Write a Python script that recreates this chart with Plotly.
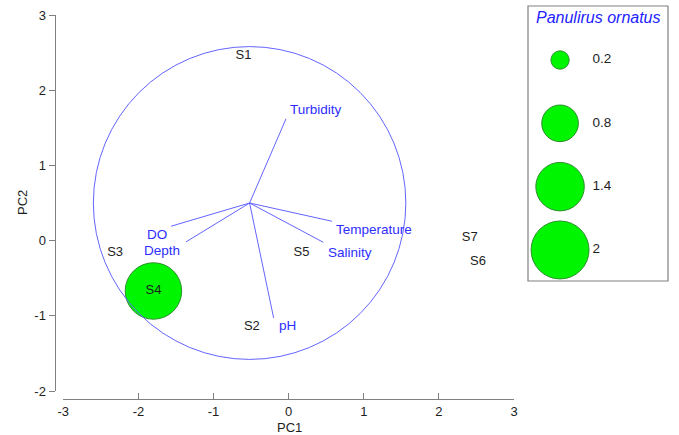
import numpy as np
import plotly.graph_objects as go

W, H = 679, 435
FONT = "Liberation Sans, Arial, sans-serif"

# ---------------- data ----------------
samples = ["S1", "S2", "S3", "S4", "S5", "S6", "S7"]
pc1 = [-0.60, -0.49, -2.31, -1.80, 0.17, 2.52, 2.41]
pc2 = [2.46, -1.14, -0.16, -0.67, -0.16, -0.28, 0.04]
abundance = [0, 0, 0, 1.9, 0, 0, 0]

variables = ["Turbidity", "Temperature", "Salinity", "pH", "DO", "Depth"]
vec_end_x = [-0.035, 0.578, 0.462, -0.200, -1.566, -1.366]
vec_end_y = [1.62, 0.257, -0.023, -1.028, 0.191, -0.017]
vec_origin_x = -0.52
vec_origin_y = 0.50
circle_radius = 2.08

legend_values = [0.2, 0.8, 1.4, 2]
legend_labels = ["0.2", "0.8", "1.4", "2"]
legend_title = "Panulirus ornatus"

x_ticks = [-3, -2, -1, 0, 1, 2, 3]
x_ticklabels = ["-3", "-2", "-1", "0", "1", "2", "3"]
y_ticks = [-2, -1, 0, 1, 2, 3]
y_ticklabels = ["-2", "-1", "0", "1", "2", "3"]
x_title = "PC1"
y_title = "PC2"

# ---------------- styles ----------------
BUBBLE_FILL = "#00f500"
BUBBLE_LINE = "#2f8f2f"
VEC_COLOR = "#6464ff"
VEC_TEXT = "#2e2eff"
AXIS_COLOR = "#808080"
TEXT_COLOR = "#1e1e1e"
SIZEREF = 2.0 / (41.0 ** 2)  # diameter ~ 41 px * sqrt(value)

label_style = {
    "Turbidity": dict(xanchor="left", xshift=2, yshift=9),
    "Temperature": dict(xanchor="left", xshift=2, yshift=-8),
    "Salinity": dict(xanchor="left", xshift=3, yshift=-10),
    "pH": dict(xanchor="left", xshift=3, yshift=-8),
    "DO": dict(xanchor="right", xshift=-2, yshift=-8),
    "Depth": dict(xanchor="right", xshift=-4, yshift=-9),
}

fig = go.Figure()

# vectors
vx, vy = [], []
for ex, ey in zip(vec_end_x, vec_end_y):
    vx += [vec_origin_x, ex, None]
    vy += [vec_origin_y, ey, None]
fig.add_trace(go.Scatter(x=vx, y=vy, mode="lines",
                         line=dict(color=VEC_COLOR, width=1),
                         hoverinfo="skip", showlegend=False))

# bubbles
bx = [x for x, a in zip(pc1, abundance) if a > 0]
by = [y for y, a in zip(pc2, abundance) if a > 0]
ba = [a for a in abundance if a > 0]
fig.add_trace(go.Scatter(x=bx, y=by, mode="markers",
                         marker=dict(size=ba, sizemode="area", sizeref=SIZEREF,
                                     color=BUBBLE_FILL, opacity=1,
                                     line=dict(color=BUBBLE_LINE, width=1)),
                         showlegend=False))

# sample labels
fig.add_trace(go.Scatter(x=pc1, y=pc2, mode="text", text=samples,
                         textposition="middle center",
                         textfont=dict(family=FONT, size=13, color=TEXT_COLOR),
                         showlegend=False))

# legend bubbles (separate axes)
leg_pos = list(range(len(legend_values)))
fig.add_trace(go.Scatter(x=[0.229] * len(legend_values), y=leg_pos, mode="markers",
                         marker=dict(size=legend_values, sizemode="area", sizeref=SIZEREF,
                                     color=BUBBLE_FILL, opacity=1,
                                     line=dict(color=BUBBLE_LINE, width=1)),
                         xaxis="x2", yaxis="y2", showlegend=False))
fig.add_trace(go.Scatter(x=[0.46] * len(legend_values), y=leg_pos, mode="text",
                         text=legend_labels, textposition="middle right",
                         textfont=dict(family=FONT, size=13.5, color=TEXT_COLOR),
                         xaxis="x2", yaxis="y2", showlegend=False))

annotations = []
for name, ex, ey in zip(variables, vec_end_x, vec_end_y):
    st = label_style[name]
    annotations.append(dict(x=ex, y=ey, xref="x", yref="y", text=name, showarrow=False,
                            yanchor="middle",
                            font=dict(family=FONT, size=13.5, color=VEC_TEXT), **st))

annotations.append(dict(x=0.5, y=0.96, xref="x2 domain", yref="y2 domain",
                        text="<i>" + legend_title + "</i>", showarrow=False,
                        xanchor="center", yanchor="middle",
                        font=dict(family=FONT, size=16, color="#2222ff")))
annotations.append(dict(x=289.3 / W, y=(H - 427.5) / H, xref="paper", yref="paper",
                        text=x_title, showarrow=False, xanchor="center", yanchor="middle",
                        font=dict(family=FONT, size=13, color=TEXT_COLOR)))
annotations.append(dict(x=22 / W, y=(H - 203) / H, xref="paper", yref="paper",
                        text=y_title, showarrow=False, textangle=-90,
                        xanchor="center", yanchor="middle",
                        font=dict(family=FONT, size=13, color=TEXT_COLOR)))

shapes = [
    dict(type="circle", xref="x", yref="y",
         x0=vec_origin_x - circle_radius, x1=vec_origin_x + circle_radius,
         y0=vec_origin_y - circle_radius, y1=vec_origin_y + circle_radius,
         line=dict(color=VEC_COLOR, width=1), layer="above"),
    dict(type="rect", xref="x2 domain", yref="y2 domain", x0=0, x1=1, y0=0, y1=1,
         line=dict(color=AXIS_COLOR, width=1.2)),
]

fig.update_layout(
    width=W, height=H, margin=dict(l=0, r=0, t=0, b=0, autoexpand=False),
    paper_bgcolor="white", plot_bgcolor="white",
    font=dict(family=FONT, size=13, color=TEXT_COLOR),
    xaxis=dict(domain=[63.3 / W, 514 / W], range=[-3, 3], anchor="free",
               position=(H - 399) / H, showline=True, linecolor=AXIS_COLOR, linewidth=1,
               ticks="inside", ticklen=6, tickcolor=AXIS_COLOR,
               tickvals=x_ticks, ticktext=x_ticklabels,
               showgrid=False, zeroline=False,
               tickfont=dict(family=FONT, size=13, color=TEXT_COLOR)),
    yaxis=dict(domain=[(H - 391) / H, (H - 15) / H], range=[-2, 3], anchor="free",
               position=54.5 / W, showline=True, linecolor=AXIS_COLOR, linewidth=1,
               ticks="outside", ticklen=6, tickcolor=AXIS_COLOR,
               tickvals=y_ticks, ticktext=y_ticklabels,
               showgrid=False, zeroline=False,
               tickfont=dict(family=FONT, size=13, color=TEXT_COLOR)),
    xaxis2=dict(domain=[528 / W, 668 / W], range=[0, 1], anchor="y2", visible=False),
    yaxis2=dict(domain=[(H - 281) / H, (H - 6) / H], range=[3.49, -0.853],
                anchor="x2", visible=False),
    annotations=annotations, shapes=shapes,
)

fig.write_html("out.html", config={"displayModeBar": False},
               post_script="document.body.style.margin='0';document.body.style.overflow='hidden';")
